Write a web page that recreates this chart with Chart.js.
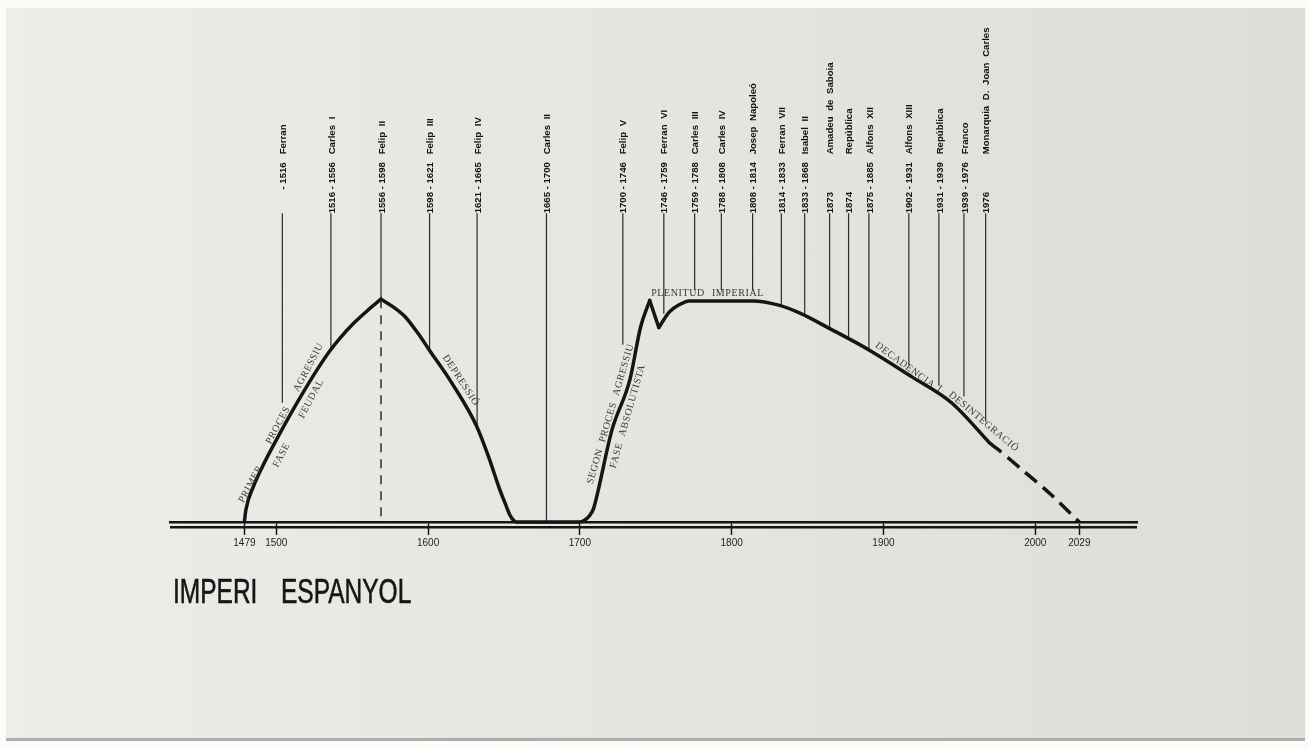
<!DOCTYPE html>
<html>
<head>
<meta charset="utf-8">
<title>Imperi Espanyol</title>
<script src="https://cdn.jsdelivr.net/npm/chart.js@4.4.1/dist/chart.umd.min.js"></script>
<style>
    html, body { margin: 0; padding: 0; background: #fbfbfa; overflow: hidden; }
    #page {
        position: absolute; left: 6px; top: 8px; width: 1299px; height: 730px;
        background: linear-gradient(90deg, #eeedea 0%, #e9e8e4 25%, #e5e3de 60%, #dfddd7 100%);
        border-bottom: 3px solid #aeada9;
    }
    #chart { position: absolute; left: 0; top: 0; }
</style>
</head>
<body>
<div id="page"></div>
<canvas id="chart" width="1309" height="749"></canvas>
<script>
// ── Data ─────────────────────────────────────────────────────────────────
// Main curve (solid), year → relative power (peak = 100)
const curveYears  = [1479, 1480, 1485, 1491, 1499, 1507, 1515, 1522, 1528, 1535, 1542, 1550, 1560, 1569,
                     1577, 1585, 1593, 1601, 1616, 1632, 1640, 1647, 1651, 1654, 1656, 1658,
                     1700, 1703, 1706, 1709, 1712, 1721, 1733, 1740, 1746, 1752,
                     1759, 1766, 1772, 1814, 1831, 1845, 1864, 1891, 1919, 1945, 1970];
const curveValues = [0, 5.5, 16, 25, 35.5, 45.5, 55, 63, 69.5, 76.5, 82.5, 88.5, 94.8, 100,
                     96.5, 92, 85, 77, 62, 43, 29, 15, 8, 3, 1, 0,
                     0, 0.8, 2.5, 6, 14, 41, 64, 87.5, 99.4, 87.3,
                     94.3, 97.7, 99.2, 99.2, 97.3, 93.7, 87, 77, 65, 53.4, 35.4];
// sharp corners of the curve (peak of Felip II, spike and dip around 1750)
const cornerYears = [1569, 1746, 1752];

// Dashed projection to the end
const forecastYears  = [1970, 1976, 1990, 2010, 2029];
const forecastValues = [35.4, 32.3, 24.2, 12.6, 0];

// Axis
const axisStart  = 1430;
const axisEnd    = 2067;
const tickYears  = [1479, 1500, 1600, 1700, 1800, 1900, 2000, 2029];
const tickLabels = ['1479', '1500', '1600', '1700', '1800', '1900', '2000', '2029'];

// Reign markers: where each line stands on the year axis, its label and where it stops
const reignYears = [1504, 1536, 1569, 1601, 1632.3, 1678, 1728.3, 1755.3, 1775.6, 1793.2,
                    1813.8, 1832.7, 1848.1, 1864.5, 1877, 1890.4, 1916.7, 1936.5, 1953, 1967.3];
const reignDates = ['- 1516', '1516 - 1556', '1556 - 1598', '1598 - 1621', '1621 - 1665',
                    '1665 - 1700', '1700 - 1746', '1746 - 1759', '1759 - 1788', '1788 - 1808',
                    '1808 - 1814', '1814 - 1833', '1833 - 1868', '1873', '1874',
                    '1875 - 1885', '1902 - 1931', '1931 - 1939', '1939 - 1976', '1976'];
const reignNames = ['Ferran', 'Carles I', 'Felip II', 'Felip III', 'Felip IV',
                    'Carles II', 'Felip V', 'Ferran VI', 'Carles III', 'Carles IV',
                    'Josep Napoleó', 'Ferran VII', 'Isabel II', 'Amadeu de Saboia', 'República',
                    'Alfons XII', 'Alfons XIII', 'República', 'Franco', 'Monarquia D. Joan Carles'];
const reignLineEnds = [53.5, 77.5, 100, 77.2, 41.4, 0, 79.5, 93.4, 104, 104,
                       104, 97.4, 93.3, 87.1, 82.6, 77.3, 70.5, 61.1, 56.3, 45.1];
const reignLineTop = 138.5;
const peakReign    = 2;   // Felip II: dashed line from the peak to the axis

// Phase captions along the curve (anchored in year / value, angle in degrees)
const phaseTexts  = ['PRIMER', 'PROCES', 'AGRESSIU', 'FASE', 'FEUDAL', 'DEPRESSIÓ',
                     'SEGON PROCES AGRESSIU', 'FASE ABSOLUTISTA', 'PLENITUD IMPERIAL',
                     'DECADENCIA', 'I', 'DESINTEGRACIÓ'];
const phaseYears  = [1483.2, 1501.2, 1521.3, 1503.5, 1523, 1621.5,
                     1720.2, 1731.5, 1784.1, 1914.2, 1937, 1966];
const phaseValues = [17, 43.4, 69.4, 30, 55.3, 63.5,
                     48.5, 47.4, 102.8, 70.3, 59.8, 45];
const phaseAngles = [-62, -62, -62, -62, -62, 57, -73.6, -74, 0, 36, 37, 40];

const chartTitle = 'IMPERI ESPANYOL';

// ── Helpers ──────────────────────────────────────────────────────────────
const toPoints = (xs, ys) => xs.map((x, i) => ({ x, y: ys[i] }));

// cut the curve at its sharp corners so each piece can be smoothed on its own
function splitCurve(xs, ys, corners) {
    const pieces = [[]];
    xs.forEach((x, i) => {
        pieces[pieces.length - 1].push({ x, y: ys[i] });
        if (corners.includes(x) && i < xs.length - 1) pieces.push([{ x, y: ys[i] }]);
    });
    return pieces;
}

const reignLineData = [];
reignYears.forEach((yr, i) => {
    reignLineData.push({ x: yr, y: reignLineTop }, { x: yr, y: reignLineEnds[i] }, { x: yr, y: null });
});

const INK = '#151515';

const curveSets = splitCurve(curveYears, curveValues, cornerYears).map((piece, i) => ({
    label: 'Imperi ' + (i + 1),
    data: piece,
    borderColor: INK, borderWidth: 3.5,
    pointRadius: 0, cubicInterpolationMode: 'monotone', clip: false,
    borderJoinStyle: 'round', borderCapStyle: 'round',
}));

// ── Text drawn on top: reign labels, phase captions, title ─────────────────
const paperText = {
    id: 'paperText',
    afterDraw(chart) {
        const { ctx, scales: { x, y } } = chart;
        ctx.save();

        // reign labels, rotated, reading bottom → top
        ctx.fillStyle = '#111';
        ctx.font = 'bold 9.6px "Liberation Sans", Arial, sans-serif';
        ctx.textBaseline = 'middle';
        const top = y.getPixelForValue(reignLineTop);
        reignYears.forEach((yr, i) => {
            ctx.save();
            ctx.translate(x.getPixelForValue(yr) + 1, top);
            ctx.rotate(-Math.PI / 2);
            const date = reignDates[i];
            ctx.wordSpacing = '0px';
            if (date.startsWith('-')) {
                ctx.textAlign = 'right';
                ctx.fillText(date, 51, 0);
            } else {
                ctx.textAlign = 'left';
                ctx.fillText(date, 0, 0);
            }
            ctx.textAlign = 'left';
            ctx.wordSpacing = '3px';
            ctx.fillText(reignNames[i], 59, 0);
            ctx.restore();
        });

        // phase captions
        ctx.wordSpacing = '4px';
        ctx.fillStyle = '#383838';
        ctx.font = '10px "Liberation Serif", "DejaVu Serif", serif';
        ctx.letterSpacing = '0.6px';
        ctx.textAlign = 'center';
        phaseTexts.forEach((txt, i) => {
            ctx.save();
            ctx.translate(x.getPixelForValue(phaseYears[i]), y.getPixelForValue(phaseValues[i]));
            ctx.rotate(phaseAngles[i] * Math.PI / 180);
            ctx.fillText(txt, 0, 0);
            ctx.restore();
        });

        // title, condensed
        ctx.letterSpacing = '0px';
        ctx.wordSpacing = '24px';
        ctx.fillStyle = '#161616';
        ctx.font = '35px "Liberation Sans", Arial, sans-serif';
        ctx.textAlign = 'left';
        ctx.textBaseline = 'alphabetic';
        ctx.translate(173, 603);
        ctx.scale(0.7, 1);
        ctx.fillText(chartTitle, 0, 0);
        ctx.strokeStyle = '#161616';
        ctx.lineWidth = 0.6;
        ctx.strokeText(chartTitle, 0, 0);

        ctx.restore();
    }
};

// ── Chart ─────────────────────────────────────────────────────────────────
new Chart(document.getElementById('chart'), {
    type: 'line',
    data: {
        datasets: [
            ...curveSets,
            {
                label: 'Projecció',
                data: toPoints(forecastYears, forecastValues),
                borderColor: INK, borderWidth: 3.5, borderDash: [15, 8],
                pointRadius: 0, tension: 0.2, clip: false,
            },
            {
                label: 'Regnats',
                data: reignLineData,
                borderColor: '#2b2b2b', borderWidth: 1.2,
                pointRadius: 0, spanGaps: false, clip: false,
            },
            {
                label: 'Felip II',
                data: [{ x: reignYears[peakReign], y: reignLineEnds[peakReign] }, { x: reignYears[peakReign], y: 0 }],
                borderColor: '#2b2b2b', borderWidth: 1.5, borderDash: [9, 7],
                pointRadius: 0, clip: false,
            },
            {
                label: 'Base',
                data: [{ x: axisStart, y: -2.3 }, { x: axisEnd, y: -2.3 }],
                borderColor: INK, borderWidth: 2.5,
                pointRadius: 0, clip: false,
            },
        ],
    },
    options: {
        responsive: false,
        animation: false,
        layout: { padding: { left: 170, right: 172, top: 210, bottom: 187 } },
        plugins: {
            legend: { display: false },
            tooltip: { enabled: false },
        },
        scales: {
            x: {
                type: 'linear',
                min: axisStart,
                max: axisEnd,
                afterBuildTicks: (scale) => { scale.ticks = tickYears.map(v => ({ value: v })); },
                afterFit: (scale) => { scale.height = 40; },
                ticks: {
                    autoSkip: false, maxRotation: 0, padding: 2,
                    color: '#1e1e1e',
                    font: { family: '"Liberation Sans", Arial, sans-serif', size: 10 },
                    callback: (v, i) => tickLabels[i],
                },
                grid: {
                    drawOnChartArea: false, drawTicks: true, tickLength: 13,
                    tickColor: '#1a1a1a', tickWidth: 1.5, color: '#1a1a1a',
                },
                border: { display: true, color: INK, width: 2.6 },
            },
            y: { display: false, min: 0, max: 140 },
        },
    },
    plugins: [paperText],
});
</script>
</body>
</html>
